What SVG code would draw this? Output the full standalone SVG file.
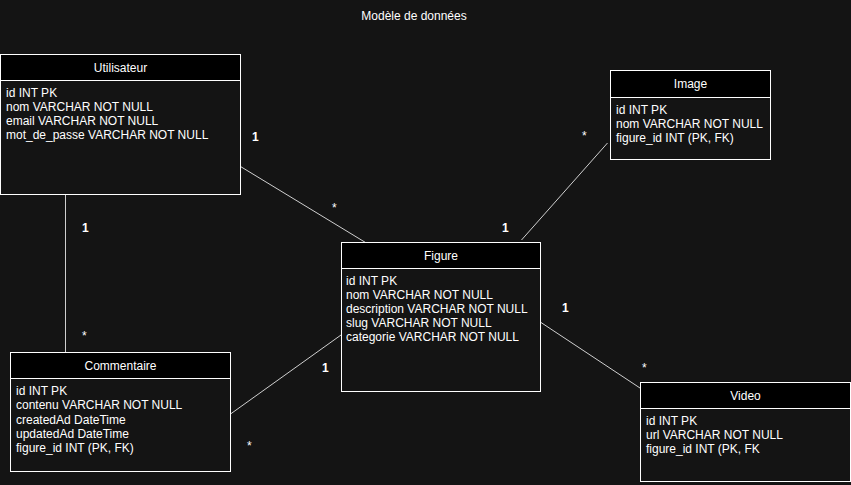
<svg xmlns="http://www.w3.org/2000/svg" width="851" height="485" viewBox="0 0 851 485">
<style>
text{font-family:"Liberation Sans",Arial,sans-serif;font-size:12px;fill:#ffffff}
.hdr{fill:#000000;stroke:#ffffff;stroke-width:1}
.body{fill:#141414;stroke:#ffffff;stroke-width:1}
.t{text-anchor:middle}
.lbl{font-weight:bold}
.conn line{stroke:#cfcfcf;stroke-width:1}
</style>
<rect x="0" y="0" width="851" height="485" fill="#141414"/>
<text class="t" x="414" y="20">Modèle de données</text>
<g class="conn">
<line x1="240.5" y1="166.5" x2="365.5" y2="242.5"/>
<line x1="65.5" y1="194.5" x2="65.5" y2="352.5"/>
<line x1="521.5" y1="240" x2="607.5" y2="143"/>
<line x1="541" y1="322.5" x2="640" y2="388"/>
<line x1="230.5" y1="414" x2="341" y2="335"/>
<text class="lbl" x="252" y="141">1</text>
<text x="332" y="212">*</text>
<text class="lbl" x="82" y="232">1</text>
<text x="82" y="340">*</text>
<text x="582" y="140">*</text>
<text class="lbl" x="502" y="232">1</text>
<text class="lbl" x="562" y="312">1</text>
<text x="642" y="372">*</text>
<text class="lbl" x="322" y="372">1</text>
<text x="247" y="450">*</text>
</g>
<g id="utilisateur">
<rect class="body" x="0.5" y="54.5" width="240" height="140"/>
<rect class="hdr" x="0.5" y="54.5" width="240" height="26"/>
<text class="t" x="120.5" y="72">Utilisateur</text>
<text x="6" y="97">id INT PK</text>
<text x="6" y="111">nom VARCHAR NOT NULL</text>
<text x="6" y="125">email VARCHAR NOT NULL</text>
<text x="6" y="139">mot_de_passe VARCHAR NOT NULL</text>
</g>
<g id="figure">
<rect class="body" x="341.5" y="242.5" width="199" height="149"/>
<rect class="hdr" x="341.5" y="242.5" width="199" height="26"/>
<text class="t" x="441" y="260">Figure</text>
<text x="346" y="285">id INT PK</text>
<text x="346" y="299">nom VARCHAR NOT NULL</text>
<text x="346" y="313">description VARCHAR NOT NULL</text>
<text x="346" y="327">slug VARCHAR NOT NULL</text>
<text x="346" y="341">categorie VARCHAR NOT NULL</text>
</g>
<g id="image">
<rect class="body" x="610.5" y="70.5" width="160" height="89"/>
<rect class="hdr" x="610.5" y="70.5" width="160" height="27"/>
<text class="t" x="690.5" y="88">Image</text>
<text x="616" y="114">id INT PK</text>
<text x="616" y="128">nom VARCHAR NOT NULL</text>
<text x="616" y="142">figure_id INT (PK, FK)</text>
</g>
<g id="commentaire">
<rect class="body" x="10.5" y="352.5" width="220" height="119"/>
<rect class="hdr" x="10.5" y="352.5" width="220" height="26"/>
<text class="t" x="120.5" y="370">Commentaire</text>
<text x="16" y="395">id INT PK</text>
<text x="16" y="409">contenu VARCHAR NOT NULL</text>
<text x="16" y="424">createdAd DateTime</text>
<text x="16" y="438">updatedAd DateTime</text>
<text x="16" y="452">figure_id INT (PK, FK)</text>
</g>
<g id="video">
<rect class="body" x="640.5" y="382.5" width="210" height="99"/>
<rect class="hdr" x="640.5" y="382.5" width="210" height="26"/>
<text class="t" x="745.5" y="400">Video</text>
<text x="646" y="425">id INT PK</text>
<text x="646" y="439">url VARCHAR NOT NULL</text>
<text x="646" y="453">figure_id INT (PK, FK</text>
</g>
</svg>
